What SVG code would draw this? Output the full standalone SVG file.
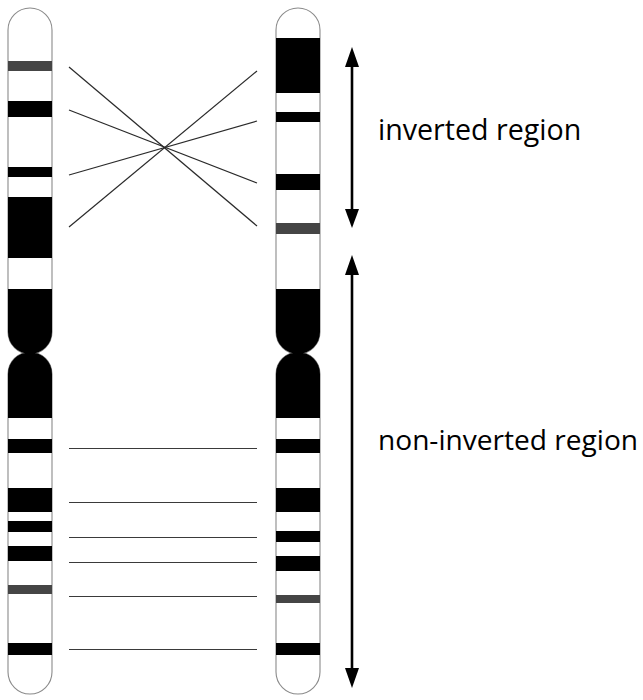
<svg xmlns="http://www.w3.org/2000/svg" width="643" height="700" viewBox="0 0 643 700">
  <style>
    .outline { fill: #ffffff; stroke: #8a8a8a; stroke-width: 1.1; }
    .band { fill: #000000; }
    .gband { fill: #454545; }
    .cross { stroke: #2a2a2a; stroke-width: 1.2; fill: none; }
    .link { stroke: #3a3a3a; stroke-width: 1.2; fill: none; }
    .span { stroke: #000000; stroke-width: 2.6; fill: none; }
    .head { fill: #000000; }
    .label { font-family: "Open Sans", "Noto Sans", sans-serif; font-size: 28.6px; fill: #000000; }
    .label-long { font-size: 28.1px; }
  </style>
  <defs>
    <!-- capsule outlines of the two chromosome arms, centred on x=0 -->
    <path id="arm-p" d="M-22,30 A22,22 0 0 1 22,30 L22,332 A22,22 0 0 1 -22,332 Z"/>
    <path id="arm-q" d="M-22,374 A22,22 0 0 1 22,374 L22,672 A22,22 0 0 1 -22,672 Z"/>
    <!-- dark centromeric lobes with the constriction between them -->
    <path id="cen" d="M-22,289 H22 V332 A22,22 0 0 1 -22,332 Z M-22,418 V374 A22,22 0 0 1 22,374 V418 Z"/>
  </defs>

  <!-- left chromosome -->
  <g id="chromosome-left" transform="translate(30,0)">
    <use href="#arm-p" class="outline"/>
    <use href="#arm-q" class="outline"/>
    <rect class="gband" x="-22" y="61" width="44" height="10"/>
    <rect class="band" x="-22" y="101" width="44" height="16"/>
    <rect class="band" x="-22" y="167" width="44" height="10"/>
    <rect class="band" x="-22" y="197" width="44" height="61"/>
    <use href="#cen" class="band"/>
    <rect class="band" x="-22" y="439" width="44" height="14"/>
    <rect class="band" x="-22" y="488" width="44" height="24"/>
    <rect class="band" x="-22" y="521" width="44" height="11"/>
    <rect class="band" x="-22" y="546" width="44" height="15"/>
    <rect class="gband" x="-22" y="585" width="44" height="9"/>
    <rect class="band" x="-22" y="643" width="44" height="12"/>
  </g>

  <!-- right chromosome -->
  <g id="chromosome-right" transform="translate(298,0)">
    <use href="#arm-p" class="outline"/>
    <use href="#arm-q" class="outline"/>
    <rect class="band" x="-22" y="38" width="44" height="55"/>
    <rect class="band" x="-22" y="112" width="44" height="10"/>
    <rect class="band" x="-22" y="174" width="44" height="16"/>
    <rect class="gband" x="-22" y="223" width="44" height="11"/>
    <use href="#cen" class="band"/>
    <rect class="band" x="-22" y="439" width="44" height="14"/>
    <rect class="band" x="-22" y="488" width="44" height="24"/>
    <rect class="band" x="-22" y="531" width="44" height="11"/>
    <rect class="band" x="-22" y="556" width="44" height="15"/>
    <rect class="gband" x="-22" y="595" width="44" height="8"/>
    <rect class="band" x="-22" y="643" width="44" height="12"/>
  </g>

  <!-- band correspondences -->
  <g id="connectors">
    <line class="cross" x1="69" y1="67" x2="257" y2="226"/>
    <line class="cross" x1="69" y1="110" x2="257" y2="183"/>
    <line class="cross" x1="69" y1="175" x2="257" y2="121"/>
    <line class="cross" x1="69" y1="227" x2="257" y2="71"/>
    <line class="link" x1="69" y1="448.5" x2="257" y2="448.5"/>
    <line class="link" x1="69" y1="502.5" x2="257" y2="502.5"/>
    <line class="link" x1="69" y1="537.5" x2="257" y2="537.5"/>
    <line class="link" x1="69" y1="562.5" x2="257" y2="562.5"/>
    <line class="link" x1="69" y1="596.5" x2="257" y2="596.5"/>
    <line class="link" x1="69" y1="649.5" x2="257" y2="649.5"/>
  </g>

  <!-- extent of the inverted region -->
  <g id="span-inverted">
    <line class="span" x1="352" y1="64" x2="352" y2="212"/>
    <polygon class="head" points="352,47 359,67 345,67"/>
    <polygon class="head" points="352,228 359,209 345,209"/>
    <text class="label" x="378" y="140">inverted region</text>
  </g>

  <!-- extent of the non-inverted region -->
  <g id="span-noninverted">
    <line class="span" x1="352" y1="272" x2="352" y2="671"/>
    <polygon class="head" points="352,255 359,275 345,275"/>
    <polygon class="head" points="352,688 359,668 345,668"/>
    <text class="label label-long" x="378" y="450">non-inverted region</text>
  </g>
</svg>
